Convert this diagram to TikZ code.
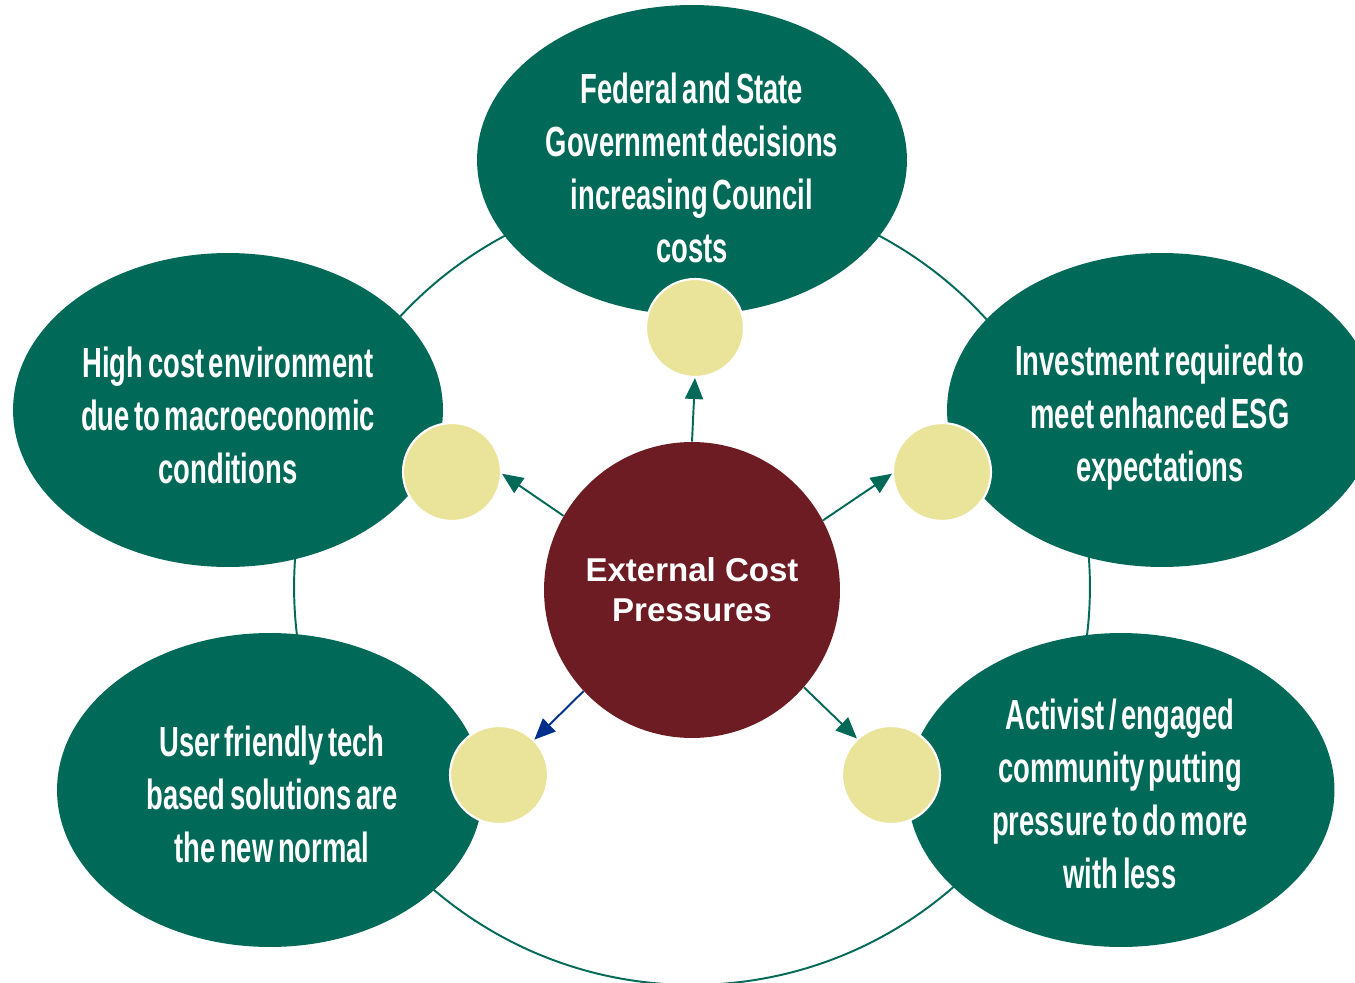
\documentclass[tikz,border=0pt]{standalone}
\usepackage{fontspec}
\setmainfont{Liberation Sans}
\newfontfamily\condfont{Liberation Sans}[FakeStretch=0.65,WordSpace=0.6]
\usetikzlibrary{shapes.geometric,arrows.meta}
\definecolor{leaf}{RGB}{0,105,88}
\definecolor{maroon}{RGB}{108,28,34}
\definecolor{sand}{RGB}{234,228,155}
\definecolor{navy}{RGB}{0,48,140}
\tikzset{
  pressure/.style={ellipse, fill=leaf, inner sep=0pt,
    minimum width=8.6cm, minimum height=6.28cm},
  caption/.style={text=white, align=center, inner sep=0pt,
    font=\condfont\bfseries\fontsize{24pt}{30.2pt}\selectfont},
  dot/.style={circle, fill=sand, draw=white, line width=1.2pt,
    minimum size=1.96cm, inner sep=0pt},
  hub/.style={circle, fill=maroon, text=white, align=center, inner sep=0pt,
    font=\bfseries\fontsize{18.8pt}{22.8pt}\selectfont, minimum size=5.92cm},
  ring/.style={circle, draw=leaf, line width=1.1pt, minimum size=15.92cm, inner sep=0pt},
  link/.style={draw=leaf, line width=1.1pt, -{Triangle[length=0.42cm,width=0.36cm]}}
}
\begin{document}
\begin{tikzpicture}[x=0.02cm,y=-0.02cm]
  \clip (0,0) rectangle (1355,983);
  \fill[white] (0,0) rectangle (1355,983);

  % connecting ring behind everything
  \node[ring] (ring) at (692,587) {};

  % the five pressure ellipses
  \node[pressure, minimum height=6.2cm] (top) at (692,160) {};
  \node[pressure] (left) at (228,410) {};
  \node[pressure] (right) at (1162,410) {};
  \node[pressure, minimum width=8.52cm] (botleft) at (270,790) {};
  \node[pressure, minimum width=8.54cm] (botright) at (1121,790) {};

  % their captions
  \node[caption] (top-t) at (692,168)
    {Federal and State\\Government decisions\\increasing Council\\costs};
  \node[caption] (left-t) at (228,415)
    {High cost environment\\due to macroeconomic\\conditions};
  \node[caption] (right-t) at (1160,418)
    {Investment required to\\meet enhanced ESG\\expectations};
  \node[caption] (botleft-t) at (272,794)
    {User friendly tech\\based solutions are\\the new normal};
  \node[caption] (botright-t) at (1120,794)
    {Activist / engaged\\community putting\\pressure to do more\\with less};

  % connector dots
  \node[dot] (dt)  at (695,328) {};
  \node[dot] (dl)  at (452,472) {};
  \node[dot] (dr)  at (942,472) {};
  \node[dot] (dbl) at (499,775) {};
  \node[dot] (dbr) at (891,775) {};

  % central hub
  \node[hub] (hub) at (692,590) {External Cost\\Pressures};

  % arrows out of the hub
  \draw[link] (hub.90)  -- (dt.south);
  \draw[link] (hub.150) -- (dl.-2);
  \draw[link] (hub.28)  -- (dr.182);
  \draw[link, draw=navy, fill=navy] (hub.223) -- (dbl.45);
  \draw[link] (hub.-41) -- (dbr.133);
\end{tikzpicture}
\end{document}
